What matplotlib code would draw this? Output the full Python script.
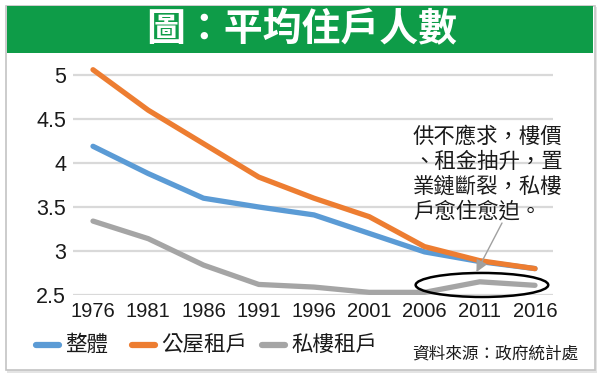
import matplotlib
matplotlib.use("Agg")
import matplotlib.pyplot as plt
from matplotlib.patches import Rectangle, Ellipse
from matplotlib.lines import Line2D

years = [1976, 1981, 1986, 1991, 1996, 2001, 2006, 2011, 2016]
overall = [4.19, 3.88, 3.60, 3.50, 3.41, 3.20, 2.99, 2.88, 2.80]
public_rent = [5.06, 4.60, 4.22, 3.84, 3.60, 3.39, 3.05, 2.89, 2.80]
private_rent = [3.34, 3.14, 2.84, 2.62, 2.59, 2.53, 2.53, 2.65, 2.61]
series_names = ["整體", "公屋租戶", "私樓租戶"]
series_colors = ["#5b9bd5", "#ed7d31", "#a5a5a5"]
y_ticks = [2.5, 3, 3.5, 4, 4.5, 5]
y_tick_labels = ["2.5", "3", "3.5", "4", "4.5", "5"]
title = "圖：平均住戶人數"
note_lines = ["供不應求，樓價", "、租金抽升，置", "業鏈斷裂，私樓", "戶愈住愈迫。"]
source = "資料來源：政府統計處"

CJK = ["Noto Sans CJK TC", "DejaVu Sans"]
W, H = 600, 378
fig = plt.figure(figsize=(6, 3.78), dpi=100)
fig.patch.set_facecolor("white")

# background overlay in pixel coords
bg = fig.add_axes([0, 0, 1, 1], zorder=-1)
bg.set_xlim(0, W)
bg.set_ylim(H, 0)
bg.axis("off")
bg.add_patch(Rectangle((7, 7), 590, 366, facecolor="#e4e4e4", edgecolor="none"))
bg.add_patch(Rectangle((5.5, 5.5), 589, 364.5, facecolor="white", edgecolor="#c4c4c4", lw=1.2))
bg.add_patch(Rectangle((7, 6), 586, 47, facecolor="#0e9c48", edgecolor="none"))
bg.text(302, 30, title, color="white", fontsize=28, fontweight="bold",
        family=CJK, ha="center", va="center")

# main axes
ax = fig.add_axes([73 / W, 1 - 295 / H, 480 / W, (295 - 57.4) / H], zorder=1)
ax.set_facecolor("none")
for vals, col in zip([overall, public_rent, private_rent], series_colors):
    ax.plot(years, vals, color=col, lw=3.8, solid_capstyle="round", solid_joinstyle="round", zorder=3)
ax.set_xlim(1974.19, 2017.63)
ax.set_ylim(2.5, 5.2)
ax.set_yticks(y_ticks)
ax.set_yticklabels(y_tick_labels, family=["Liberation Sans", "DejaVu Sans"], fontsize=15.5, color="#1a1a1a")
ax.set_xticks(years)
ax.set_xticklabels([str(y) for y in years], family=["Liberation Sans Narrow", "Liberation Sans", "DejaVu Sans"],
                   fontsize=14.5, color="#1a1a1a")
ax.tick_params(axis="both", length=0)
ax.tick_params(axis="y", pad=5)
ax.tick_params(axis="x", pad=5)
for s in ax.spines.values():
    s.set_visible(False)
ax.yaxis.grid(True, color="#d9d9d9", lw=1.6, zorder=0)
ax.set_axisbelow(True)

# ellipse around recent private rent
ax.add_patch(Ellipse((2011.2, 2.614), 12.0, 0.273, facecolor="none", edgecolor="black",
                     lw=1.8, clip_on=False, zorder=4))

# arrow
ax.annotate("", xy=(2010.7, 2.76), xycoords="data",
            xytext=(502 / W, 1 - 223 / H), textcoords="figure fraction",
            arrowprops=dict(arrowstyle="-|>,head_length=0.7,head_width=0.35",
                            color="#a0a0a0", lw=1.0, shrinkA=0, shrinkB=0), zorder=5)

# note text
for i, line in enumerate(note_lines):
    fig.text(413 / W, 1 - (136.5 + 25 * i) / H, line, family=CJK, fontsize=15.4,
             fontweight="light", color="#1a1a1a", ha="left", va="center")

# legend (manual)
leg_x = [36, 132, 262]
for name, col, x0 in zip(series_names, series_colors, leg_x):
    bg.add_line(Line2D([x0, x0 + 23], [345, 345], color=col, lw=4.5, solid_capstyle="round"))
    fig.text((x0 + 29) / W, 1 - 345 / H, name, family=CJK, fontsize=15.5, fontweight="light",
             color="#1a1a1a", ha="left", va="center")

fig.text(578 / W, 1 - 353.5 / H, source, family=CJK, fontsize=12, fontweight="light",
         color="#1a1a1a", ha="right", va="center")

fig.savefig("out.png", dpi=100)
